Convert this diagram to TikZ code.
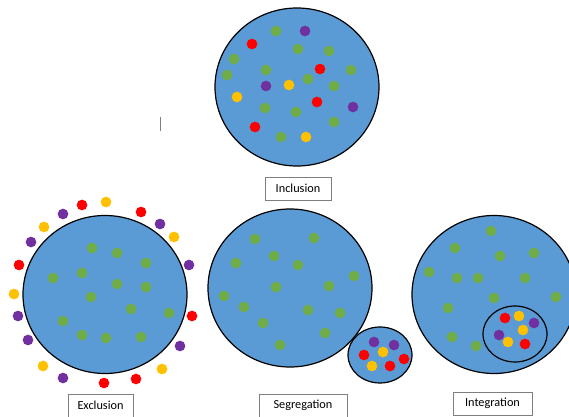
\documentclass[tikz,border=0pt]{standalone}
\usepackage{fontspec}
\setmainfont{Carlito}
\usetikzlibrary{shapes.geometric}

\definecolor{groupblue}{HTML}{5B9BD5}
\definecolor{dotgreen}{HTML}{70AD47}
\definecolor{dotred}{HTML}{FF0000}
\definecolor{dotyellow}{HTML}{FFC000}
\definecolor{dotpurple}{HTML}{7030A0}
\definecolor{tagline}{HTML}{7F7F7F}

\begin{document}
\begin{tikzpicture}[x=0.75pt, y=-0.75pt]
\tikzstyle{group} = [ellipse, draw, fill=groupblue, line width=0.9pt,
    inner sep=0pt, minimum width=123pt, minimum height=118.5pt]
\tikzstyle{subgroup} = [ellipse, draw, line width=0.9pt, inner sep=0pt,
    minimum width=48pt, minimum height=42pt]
\tikzstyle{dot} = [circle, inner sep=0pt, minimum size=8pt]
\tikzstyle{tag} = [rectangle, draw=tagline, line width=0.6pt,
    font=\fontsize{9.2}{11}\selectfont, minimum height=17.25pt, inner sep=0pt]

    \useasboundingbox (0,0) rectangle (569,417);

    % Place groups
    \node [group] (inclusion) at (297,87) {};
    \node [group] (exclusion) at (105,294.5) {};
    \node [group] (segregation) at (290,288) {};
    \node [group, minimum width=48pt, minimum height=42pt] (segregated) at (380,355) {};
    \node [group] (integration) at (494,294.5) {};
    \node [subgroup] (integrated) at (515,334) {};

    % Inclusion dots
    \foreach \p [count=\i] in {(276,31),(298,49),(329,51),(234,59),(266,70),(351,70),
        (227,75),(308,79),(334,86),(265,108),(296,112),(334,122),(281,137)}
        \node [dot, fill=dotgreen] (inc-g\i) at \p {};
    \foreach \p [count=\i] in {(252,44),(320,69),(317,102),(255,127)}
        \node [dot, fill=dotred] (inc-r\i) at \p {};
    \foreach \p [count=\i] in {(289,85),(237,97),(306,137)}
        \node [dot, fill=dotyellow] (inc-y\i) at \p {};
    \foreach \p [count=\i] in {(305,31),(266,86),(353,107)}
        \node [dot, fill=dotpurple] (inc-p\i) at \p {};

    % Exclusion dots
    \foreach \p [count=\i] in {(92,248),(117,253),(146,263),(53,278),(82,273),(117,284),
        (146,287),(91,297),(131,309),(169,313),(63,321),(82,335),(106,338),(141,337)}
        \node [dot, fill=dotgreen] (exc-g\i) at \p {};
    \foreach \p [count=\i] in {(82,205),(141,212),(19,265),(192,316),(136,379),(104,383)}
        \node [dot, fill=dotred] (exc-r\i) at \p {};
    \foreach \p [count=\i] in {(106,202),(44,227),(174,237),(14,294),(43,366),(162,369)}
        \node [dot, fill=dotyellow] (exc-y\i) at \p {};
    \foreach \p [count=\i] in {(63,214),(160,224),(31,242),(189,265),(18,316),(28,340),
        (180,346),(63,378)}
        \node [dot, fill=dotpurple] (exc-p\i) at \p {};

    % Segregation dots
    \foreach \p [count=\i] in {(255,239),(314,238),(274,256),(236,263),(298,265),(354,276),
        (276,287),(329,286),(224,296),(244,307),(308,310),(340,313),(263,323),(325,333),(280,345)}
        \node [dot, fill=dotgreen] (seg-g\i) at \p {};
    \foreach \p [count=\i] in {(364,355),(404,359),(390,366)}
        \node [dot, fill=dotred] (seg-r\i) at \p {};
    \foreach \p [count=\i] in {(383,352),(372,366)}
        \node [dot, fill=dotyellow] (seg-y\i) at \p {};
    \foreach \p [count=\i] in {(374,342),(394,345)}
        \node [dot, fill=dotpurple] (seg-p\i) at \p {};

    % Integration dots
    \foreach \p [count=\i] in {(491,231),(455,248),(500,256),(534,253),(429,272),(457,278),
        (478,278),(525,278),(494,298),(556,297),(448,308),(452,337),(476,346)}
        \node [dot, fill=dotgreen] (int-g\i) at \p {};
    \foreach \p [count=\i] in {(505,318),(525,344)}
        \node [dot, fill=dotred] (int-r\i) at \p {};
    \foreach \p [count=\i] in {(519,316),(523,330),(508,342)}
        \node [dot, fill=dotyellow] (int-y\i) at \p {};
    \foreach \p [count=\i] in {(534,323),(499,335)}
        \node [dot, fill=dotpurple] (int-p\i) at \p {};

    % Labels
    \node [tag, minimum width=49.5pt] (inclusion-tag) at (298,188.5) {Inclusion};
    \node [tag, minimum width=48.75pt] (exclusion-tag) at (100.5,405.5) {Exclusion};
    \node [tag, minimum width=66pt] (segregation-tag) at (303,405.5) {Segregation};
    \node [tag, minimum width=59.25pt] (integration-tag) at (492.5,403.5) {Integration};

    % stray mark
    \draw [tagline, line width=0.6pt] (160,117) -- (160,131);
\end{tikzpicture}
\end{document}
